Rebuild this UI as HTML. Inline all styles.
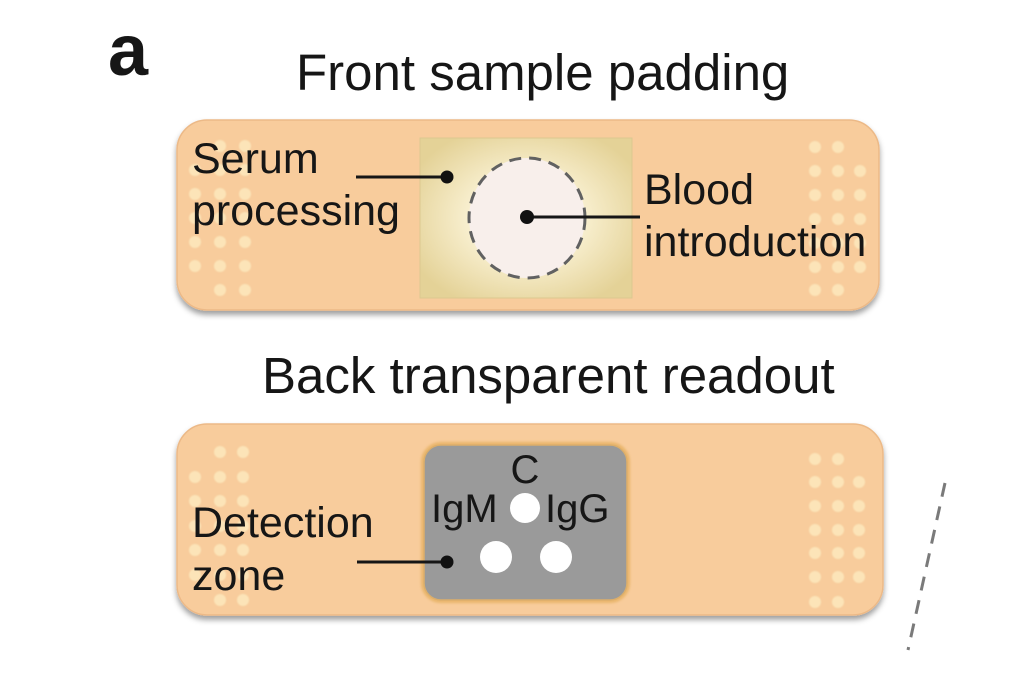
<!DOCTYPE html>
<html>
<head>
<meta charset="utf-8">
<style>
html,body{margin:0;padding:0;background:#fff;}
svg{display:block;}
text{font-family:"Liberation Sans", Arial, sans-serif;fill:#161616;}
</style>
</head>
<body>
<svg width="1024" height="682" viewBox="0 0 1024 682" xmlns="http://www.w3.org/2000/svg">
  <defs>
    <filter id="sh" x="-5%" y="-10%" width="110%" height="130%">
      <feDropShadow dx="0" dy="4" stdDeviation="3" flood-color="#000" flood-opacity="0.38"/>
    </filter>
    <filter id="soft" x="-50%" y="-50%" width="200%" height="200%">
      <feGaussianBlur stdDeviation="0.8"/>
    </filter>
    <radialGradient id="pad" cx="50%" cy="50%" r="60%">
      <stop offset="0" stop-color="#fdf8ea"/>
      <stop offset="0.45" stop-color="#f8efcf"/>
      <stop offset="1" stop-color="#e4d297"/>
    </radialGradient>
    <filter id="glow" x="-10%" y="-10%" width="120%" height="120%">
      <feGaussianBlur stdDeviation="1.2"/>
    </filter>
  </defs>

  <!-- label a -->
  <text x="108" y="75" font-size="72" font-weight="bold">a</text>

  <!-- titles -->
  <text x="296" y="90" font-size="51">Front sample padding</text>
  <text x="262" y="393" font-size="51">Back transparent readout</text>

  <!-- TOP BANDAGE -->
  <rect x="177" y="120" width="702" height="190" rx="30" ry="30" fill="#f8cc9c" stroke="#ecb987" stroke-width="1.5" filter="url(#sh)"/>
  <g fill="#fce4b8" filter="url(#soft)">
    <!-- left dots -->
    <circle cx="220" cy="146" r="6"/><circle cx="245" cy="146" r="6"/>
    <circle cx="195" cy="170" r="6"/><circle cx="220" cy="170" r="6"/><circle cx="245" cy="170" r="6"/>
    <circle cx="195" cy="194" r="6"/><circle cx="220" cy="194" r="6"/><circle cx="245" cy="194" r="6"/>
    <circle cx="195" cy="218" r="6"/><circle cx="220" cy="218" r="6"/><circle cx="245" cy="218" r="6"/>
    <circle cx="195" cy="242" r="6"/><circle cx="220" cy="242" r="6"/><circle cx="245" cy="242" r="6"/>
    <circle cx="195" cy="266" r="6"/><circle cx="220" cy="266" r="6"/><circle cx="245" cy="266" r="6"/>
    <circle cx="220" cy="290" r="6"/><circle cx="245" cy="290" r="6"/>
    <!-- right dots -->
    <circle cx="815" cy="147" r="6"/><circle cx="838" cy="147" r="6"/>
    <circle cx="815" cy="171" r="6"/><circle cx="838" cy="171" r="6"/><circle cx="860" cy="171" r="6"/>
    <circle cx="815" cy="195" r="6"/><circle cx="838" cy="195" r="6"/><circle cx="860" cy="195" r="6"/>
    <circle cx="815" cy="219" r="6"/><circle cx="838" cy="219" r="6"/><circle cx="860" cy="219" r="6"/>
    <circle cx="815" cy="243" r="6"/><circle cx="838" cy="243" r="6"/><circle cx="860" cy="243" r="6"/>
    <circle cx="815" cy="267" r="6"/><circle cx="838" cy="267" r="6"/><circle cx="860" cy="267" r="6"/>
    <circle cx="815" cy="290" r="6"/><circle cx="838" cy="290" r="6"/>
  </g>
  <!-- serum pad -->
  <rect x="420" y="138" width="212" height="160" fill="url(#pad)" stroke="#dcc88f" stroke-width="1"/>
  <ellipse cx="527" cy="218" rx="58" ry="60" fill="#f8efeb" stroke="#616161" stroke-width="3" stroke-dasharray="12 8"/>
  <!-- connectors -->
  <line x1="356" y1="177" x2="447" y2="177" stroke="#161616" stroke-width="3"/>
  <circle cx="447" cy="177" r="6.5" fill="#111"/>
  <line x1="527" y1="217" x2="640" y2="217" stroke="#161616" stroke-width="3"/>
  <circle cx="527" cy="217" r="7" fill="#111"/>
  <!-- labels -->
  <text x="192" y="173" font-size="43">Serum</text>
  <text x="192" y="225" font-size="43">processing</text>
  <text x="644" y="204" font-size="43">Blood</text>
  <text x="644" y="256" font-size="43">introduction</text>

  <!-- BOTTOM BANDAGE -->
  <rect x="177" y="424" width="706" height="191" rx="30" ry="30" fill="#f8cc9c" stroke="#ecb987" stroke-width="1.5" filter="url(#sh)"/>
  <g fill="#fce4b8" filter="url(#soft)">
    <!-- left dots -->
    <circle cx="220" cy="452" r="6"/><circle cx="243" cy="452" r="6"/>
    <circle cx="195" cy="477" r="6"/><circle cx="220" cy="477" r="6"/><circle cx="243" cy="477" r="6"/>
    <circle cx="195" cy="501" r="6"/><circle cx="220" cy="501" r="6"/><circle cx="243" cy="501" r="6"/>
    <circle cx="195" cy="526" r="6"/><circle cx="220" cy="526" r="6"/><circle cx="243" cy="526" r="6"/>
    <circle cx="195" cy="550" r="6"/><circle cx="220" cy="550" r="6"/><circle cx="243" cy="550" r="6"/>
    <circle cx="195" cy="575" r="6"/><circle cx="220" cy="575" r="6"/><circle cx="243" cy="575" r="6"/>
    <circle cx="220" cy="600" r="6"/><circle cx="243" cy="600" r="6"/>
    <!-- right dots -->
    <circle cx="815" cy="459" r="6"/><circle cx="838" cy="459" r="6"/>
    <circle cx="815" cy="482" r="6"/><circle cx="838" cy="482" r="6"/><circle cx="859" cy="482" r="6"/>
    <circle cx="815" cy="506" r="6"/><circle cx="838" cy="506" r="6"/><circle cx="859" cy="506" r="6"/>
    <circle cx="815" cy="530" r="6"/><circle cx="838" cy="530" r="6"/><circle cx="859" cy="530" r="6"/>
    <circle cx="815" cy="553" r="6"/><circle cx="838" cy="553" r="6"/><circle cx="859" cy="553" r="6"/>
    <circle cx="815" cy="577" r="6"/><circle cx="838" cy="577" r="6"/><circle cx="859" cy="577" r="6"/>
    <circle cx="815" cy="602" r="6"/><circle cx="838" cy="602" r="6"/>
  </g>
  <!-- detection zone -->
  <rect x="423" y="444" width="205" height="157" rx="18" ry="18" fill="none" stroke="#e9b56a" stroke-width="4" filter="url(#glow)"/>
  <rect x="424" y="445" width="203" height="155" rx="17" ry="17" fill="#9a9a9a" stroke="#dcae6a" stroke-width="1.5"/>
  <circle cx="525" cy="508" r="15" fill="#fff"/>
  <circle cx="496" cy="557" r="16" fill="#fff"/>
  <circle cx="556" cy="557" r="16" fill="#fff"/>
  <text x="525" y="483" font-size="40" text-anchor="middle">C</text>
  <text x="431" y="522" font-size="40">IgM</text>
  <text x="545" y="522" font-size="40">IgG</text>
  <line x1="357" y1="562" x2="447" y2="562" stroke="#161616" stroke-width="3"/>
  <circle cx="447" cy="562" r="6.5" fill="#111"/>
  <text x="192" y="537" font-size="43">Detection</text>
  <text x="192" y="590" font-size="43">zone</text>

  <!-- dashed line at right -->
  <line x1="945" y1="483" x2="908" y2="650" stroke="#7a7a7a" stroke-width="3" stroke-dasharray="14 10"/>
</svg>
</body>
</html>
